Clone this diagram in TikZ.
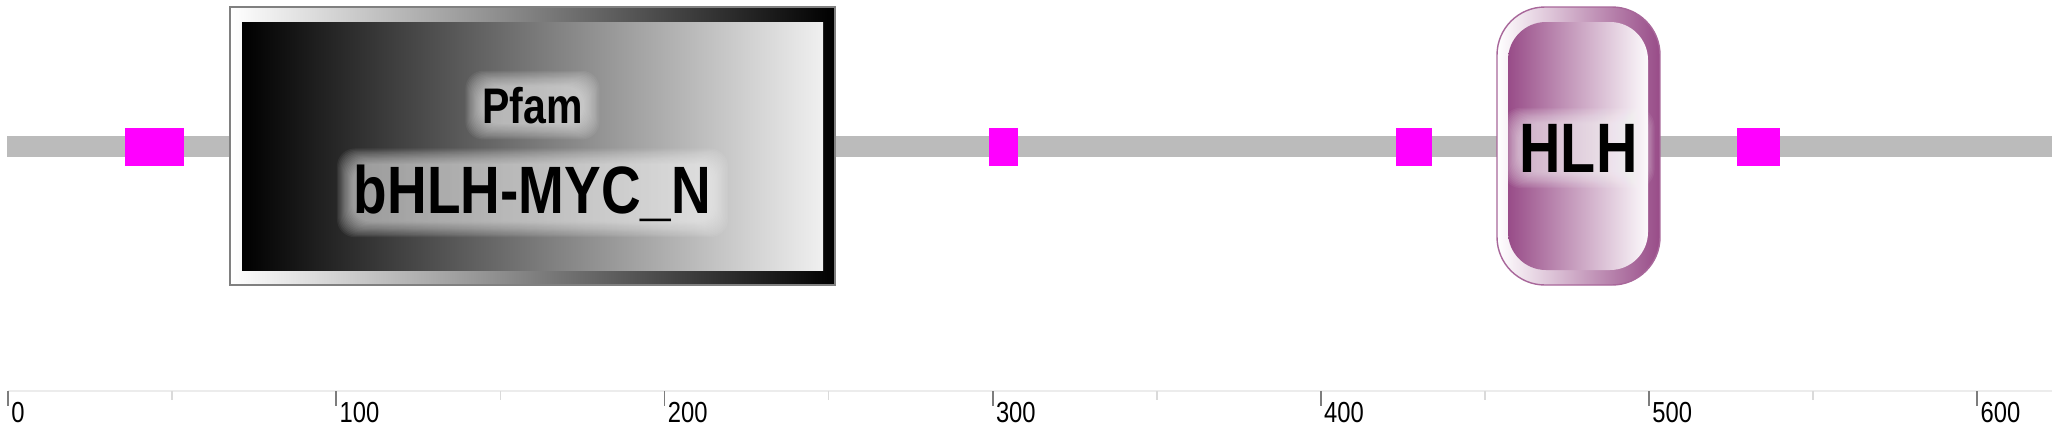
\documentclass[tikz,border=0pt]{standalone}
\usepackage{fontspec}
\setmainfont{Liberation Sans}
\newfontfamily\nar{Liberation Sans}[FakeStretch=0.82]
\usetikzlibrary{calc}
\pgfdeclarelayer{back}
\pgfdeclarelayer{glow}
\pgfsetlayers{back,glow,main}
\definecolor{barg}{RGB}{187,187,187}
\definecolor{motifc}{RGB}{255,0,255}
\definecolor{hlhp}{RGB}{152,76,136}
\definecolor{axl}{RGB}{236,236,236}
\definecolor{tickc}{RGB}{125,125,125}
\definecolor{minc}{RGB}{218,218,218}
\newcommand\glowbox[1]{%
  \begin{pgfonlayer}{glow}
  \foreach \i in {0,...,13}{%
    \fill[white, opacity=0.055, rounded corners=9pt]
      ($(#1.south west)+(-1-1.2*\i,1.2*\i)$) rectangle ($(#1.north east)+(1+1.2*\i,-1.2*\i)$);
  }%
  \end{pgfonlayer}%
}
\tikzset{
  motif/.style={fill=motifc, draw=none, inner sep=0pt, minimum height=19pt},
  majortick/.style={draw=tickc, line width=0.9pt},
  minortick/.style={draw=minc, line width=0.8pt},
  axlabel/.style={anchor=base west, inner sep=0pt, font=\nar\fontsize{14.5}{14.5}\selectfont},
  pfamfont/.style={font=\nar\bfseries\fontsize{25}{25}\selectfont},
  bigfont/.style={font=\nar\bfseries\fontsize{33.5}{33.5}\selectfont},
  hlhfont/.style={font=\nar\bfseries\fontsize{35}{35}\selectfont},
}
\begin{document}
\begin{tikzpicture}[x=0.5pt,y=-0.5pt]
\begin{pgfonlayer}{back}
\useasboundingbox[fill=white] (0,0) rectangle (2056,430);
% backbone
\coordinate (bl) at (7,146.5);
\coordinate (br) at (2052,146.5);
\draw[barg, line width=10.5pt] (bl) -- (br);
% motifs
\node[motif, minimum width=29.5pt] (m1) at (154.5,147) {};
\node[motif, minimum width=14.5pt] (m2) at (1003.5,147) {};
\node[motif, minimum width=18pt] (m3) at (1414,147) {};
\node[motif, minimum width=21.5pt] (m4) at (1758.5,147) {};
% bHLH-MYC_N domain
\shade[left color=white, right color=black] (230,7) rectangle (835,285);
\shade[left color=black, right color=white!94!black] (242,22) rectangle (823,270);
\draw[gray, line width=0.6pt] (230,7) rectangle (835,285);
% HLH domain
\shade[left color=white, right color=hlhp, rounded corners=24pt] (1497,7) rectangle (1660,285);
\draw[hlhp!85, line width=0.7pt, rounded corners=24pt] (1497,7) rectangle (1660,285);
\shade[left color=hlhp, right color=white!97!hlhp, rounded corners=19pt] (1508,22) rectangle (1648,270);
\end{pgfonlayer}
% domain texts
\node[pfamfont, anchor=base, inner sep=0pt] (pfam) at (532.5,123) {Pfam};
\node[bigfont, anchor=base, inner sep=0pt] (dom1) at (532.5,213) {bHLH-MYC\_N};
\node[hlhfont, anchor=base, inner sep=0pt] (dom2) at (1578.5,172) {HLH};
\glowbox{pfam}
\glowbox{dom1}
\glowbox{dom2}
% axis
\coordinate (a0) at (8,391);
\coordinate (a1) at (2052,391);
\draw[axl, line width=1pt] (a0) -- (a1);
\foreach \k in {0,...,5}{
  \pgfmathsetmacro\xx{8+328.2*(\k+0.5)}
  \draw[minortick] (\xx,391) -- (\xx,400);
}
\foreach \k in {0,...,6}{
  \pgfmathsetmacro\xx{8+328.2*\k}
  \pgfmathtruncatemacro\lab{100*\k}
  \draw[majortick] (\xx,391) -- (\xx,406);
  \node[axlabel] (lab\k) at (\xx+3,422) {\lab};
}
\end{tikzpicture}
\end{document}
